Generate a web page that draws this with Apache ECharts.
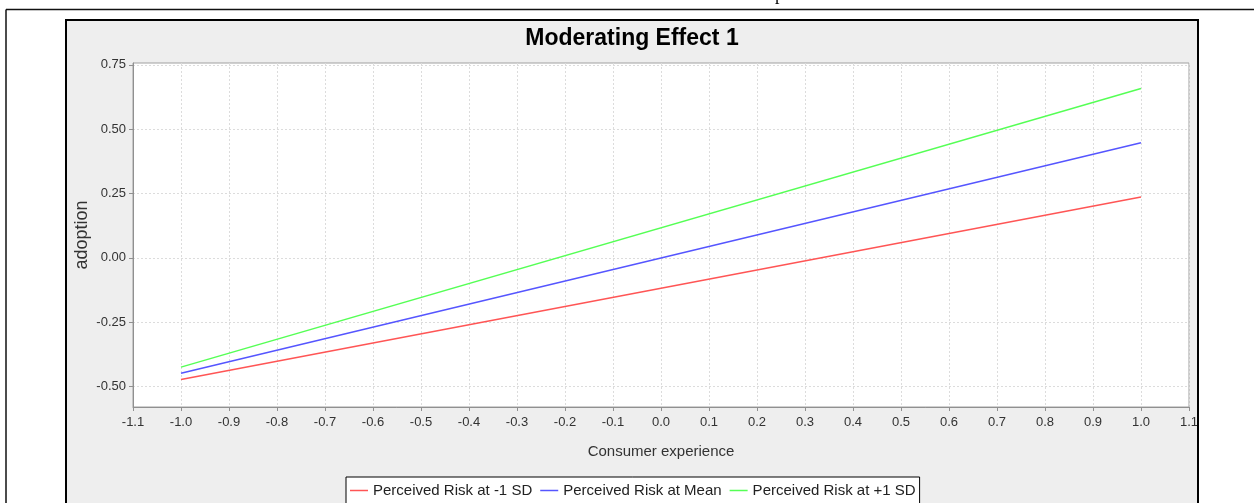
<!DOCTYPE html>
<html>
<head>
<meta charset="utf-8">
<script src="https://cdn.jsdelivr.net/npm/echarts@6/dist/echarts.min.js"></script>
<style>
  html, body { margin: 0; padding: 0; background: #fff; }
  #chart { width: 1254px; height: 503px; }
</style>
</head>
<body>
<div id="chart"></div>
<script>
// values
var xValues = [-1.0, 1.0];
var riskLow = [-0.473, 0.236];
var riskMean = [-0.449, 0.447];
var riskHigh = [-0.425, 0.658];
var seriesNames = ['Perceived Risk at -1 SD', 'Perceived Risk at Mean', 'Perceived Risk at +1 SD'];
var yTicks = [-0.5, -0.25, 0, 0.25, 0.5, 0.75];

var sans = "'Liberation Sans', Arial, sans-serif";

function pairs(ys) {
    return xValues.map(function (x, i) { return [x, ys[i]]; });
}

var myChart = echarts.init(document.getElementById('chart'));
let option = {
    backgroundColor: '#ffffff',
    animation: false,
    title: {
        text: 'Moderating Effect 1',
        left: 632,
        top: 27,
        padding: 0,
        textAlign: 'center',
        textStyle: { fontFamily: sans, fontSize: 23, fontWeight: 'bold', color: '#000' }
    },
    graphic: [
        // page frame lines
        { type: 'line', z: -5, shape: { x1: 6, y1: 9.5, x2: 1254, y2: 9.5 }, style: { stroke: '#111', lineWidth: 1.5 } },
        { type: 'line', z: -5, shape: { x1: 6, y1: 9.5, x2: 6, y2: 503 }, style: { stroke: '#111', lineWidth: 1.5 } },
        // cut off glyph of the text above
        { type: 'text', z: -5, left: 775, top: -14, style: { text: 'p', font: '18px "Liberation Serif"', fill: '#000' } },
        // chart panel
        { type: 'rect', z: -10, shape: { x: 66, y: 20, width: 1132, height: 500 }, style: { fill: '#eeeeee', stroke: null } },
        // white strip that clips the last tick label, then the panel border
        { type: 'rect', z: 100, shape: { x: 1199, y: 20, width: 55, height: 483 }, style: { fill: '#ffffff' } },
        { type: 'rect', z: 101, shape: { x: 66, y: 20, width: 1132, height: 500 }, style: { fill: 'none', stroke: '#000', lineWidth: 2 } }
    ],
    legend: {
        left: 346,
        top: 477,
        padding: [6, 4, 8, 4],
        itemGap: 8,
        itemWidth: 18,
        itemHeight: 1.5,
        icon: 'rect',
        backgroundColor: '#ffffff',
        borderColor: '#000',
        borderWidth: 1,
        borderRadius: 0,
        textStyle: { fontFamily: sans, fontSize: 15, color: '#222' },
        data: seriesNames
    },
    grid: {
        left: 133,
        right: 65,
        top: 63,
        bottom: 96,
        show: true,
        backgroundColor: '#ffffff',
        borderColor: '#a0a0a0',
        borderWidth: 1
    },
    xAxis: {
        type: 'value',
        min: -1.1,
        max: 1.1,
        interval: 0.1,
        name: 'Consumer experience',
        nameLocation: 'middle',
        nameGap: 37,
        nameTextStyle: { fontFamily: sans, fontSize: 15, color: '#333' },
        axisLine: { show: true, onZero: false, lineStyle: { color: '#909090' } },
        axisTick: { show: true, length: 4, lineStyle: { color: '#909090' } },
        axisLabel: {
            fontFamily: sans, fontSize: 13, color: '#333', margin: 9,
            showMinLabel: true, showMaxLabel: true,
            formatter: function (v) { return v.toFixed(1); }
        },
        splitLine: { show: true, lineStyle: { color: '#dcdcdc', type: [2, 2] } }
    },
    yAxis: {
        type: 'value',
        min: -0.58,
        max: 0.757,
        name: 'adoption',
        nameLocation: 'middle',
        nameRotate: 90,
        nameGap: 42,
        nameMoveOverlap: false,
        nameTextStyle: { fontFamily: sans, fontSize: 18, color: '#333' },
        axisLine: { show: true, onZero: false, lineStyle: { color: '#909090' } },
        axisTick: { show: true, length: 4, customValues: yTicks, lineStyle: { color: '#909090' } },
        axisLabel: {
            fontFamily: sans, fontSize: 13, color: '#333', margin: 7,
            customValues: yTicks,
            formatter: function (v) { return v.toFixed(2); }
        },
        splitLine: { show: true, lineStyle: { color: '#dcdcdc', type: [2, 2] } }
    },
    series: [
        { name: seriesNames[0], type: 'line', data: pairs(riskLow), showSymbol: false, color: '#ff5555', lineStyle: { width: 1.5 } },
        { name: seriesNames[1], type: 'line', data: pairs(riskMean), showSymbol: false, color: '#5555ff', lineStyle: { width: 1.5 } },
        { name: seriesNames[2], type: 'line', data: pairs(riskHigh), showSymbol: false, color: '#55ff55', lineStyle: { width: 1.5 } }
    ]
};
myChart.setOption(option);
</script>
</body>
</html>
